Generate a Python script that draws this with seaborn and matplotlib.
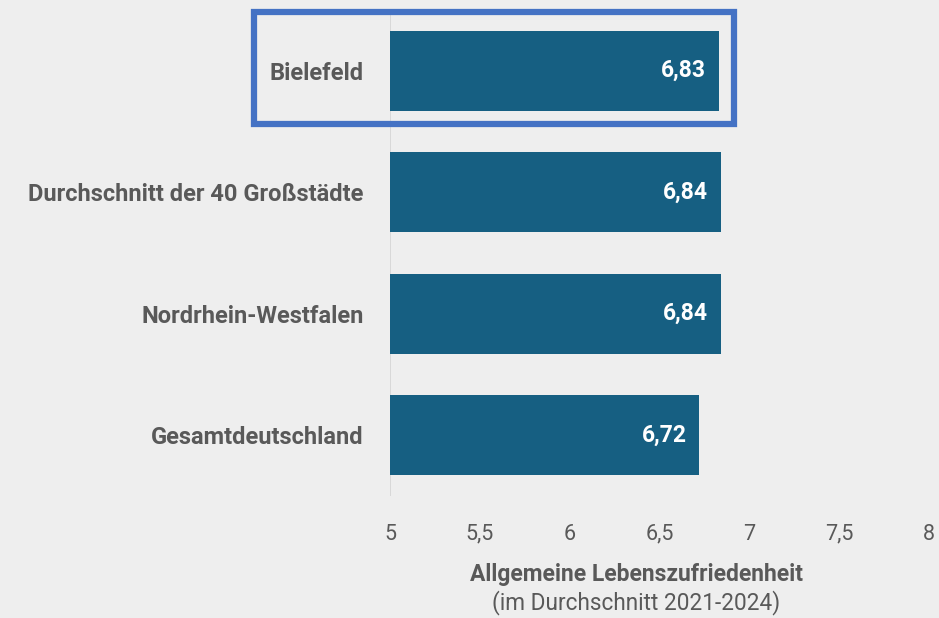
import matplotlib
matplotlib.use("Agg")
import matplotlib.pyplot as plt
import seaborn as sns
import pandas as pd
from matplotlib.patches import Rectangle
from matplotlib.ticker import FuncFormatter

categories = ["Bielefeld", "Durchschnitt der 40 Großstädte", "Nordrhein-Westfalen", "Gesamtdeutschland"]
values = [6.83, 6.84, 6.84, 6.72]
value_labels = ["6,83", "6,84", "6,84", "6,72"]
x_ticks = [5, 5.5, 6, 6.5, 7, 7.5, 8]
xlabel_main = "Allgemeine Lebenszufriedenheit"
xlabel_sub = "(im Durchschnitt 2021-2024)"

BG = "#EEEEEE"
BAR = "#165F82"
TXT = "#595959"
HL = "#4472C4"

sns.set_theme(style="white")
plt.rcParams["font.family"] = ["Roboto", "DejaVu Sans"]

df = pd.DataFrame({"cat": categories, "val": values})

fig = plt.figure(figsize=(9.39, 6.18), dpi=100, facecolor=BG)
ax = fig.add_axes([390 / 939, 1 - 496 / 618, (929 - 390) / 939, (496 - 10) / 618])
ax.set_facecolor(BG)

sns.barplot(data=df, y="cat", x="val", orient="h", color=BAR, width=0.66,
            saturation=1, linewidth=0, ax=ax, zorder=2)

ax.set_xlim(5, 8)
ax.set_ylim(3.5, -0.5)
ax.set_xticks(x_ticks)
ax.xaxis.set_major_formatter(FuncFormatter(lambda v, p: f"{v:g}".replace(".", ",")))
for s in ax.spines.values():
    s.set_visible(False)
ax.axvline(5, color="#D4D4D4", lw=1.2, zorder=1)
ax.tick_params(axis="x", length=0, pad=20, labelsize=15.5, labelcolor=TXT)
ax.tick_params(axis="y", length=0, pad=19, labelsize=17, labelcolor=TXT)
for t in ax.get_yticklabels():
    t.set_fontweight("bold")
ax.set_xlabel("")
ax.set_ylabel("")

for i, (v, lab) in enumerate(zip(values, value_labels)):
    ax.annotate(lab, xy=(v, i), xytext=(-9, 0), textcoords="offset points",
                ha="right", va="center", color="white", fontsize=16.5,
                fontweight="bold", zorder=3)

# highlight box around first category
rect = Rectangle((4.243, -0.48), values[0] + 0.085 - 4.243, 0.92, fill=False,
                 edgecolor=HL, lw=4.5, clip_on=False, zorder=4)
ax.add_patch(rect)

fig.text(636 / 939, 1 - 574 / 618, xlabel_main, ha="center", va="center",
         fontsize=16.5, fontweight="bold", color=TXT)
fig.text(636 / 939, 1 - 603 / 618, xlabel_sub, ha="center", va="center",
         fontsize=16.3, color=TXT)

fig.savefig("out.png", dpi=100, facecolor=BG)
